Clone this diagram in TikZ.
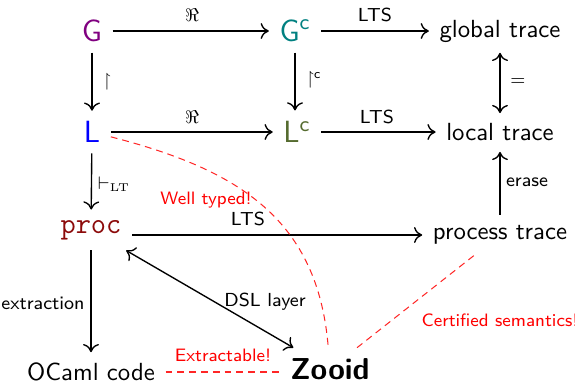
\documentclass[tikz,border=0pt]{standalone}
\usepackage{amsmath,amssymb}
\usetikzlibrary{arrows.meta}
\renewcommand\familydefault{\sfdefault}
\definecolor{gcol}{RGB}{128,0,128}
\definecolor{gccol}{RGB}{0,128,128}
\definecolor{lcol}{RGB}{0,0,255}
\definecolor{lccol}{RGB}{85,107,47}
\definecolor{proccol}{RGB}{140,10,10}
\tikzset{
  obj/.style={inner sep=4.5pt, font=\fontsize{10.9}{12}\selectfont},
  bigobj/.style={inner sep=4.5pt, font=\fontsize{13.5}{15}\selectfont},
  lbl/.style={inner sep=0pt, font=\fontsize{8.3}{9}\selectfont},
  redlbl/.style={inner sep=0pt, text=red, font=\fontsize{7.9}{9}\selectfont},
  arr/.style={line width=0.6pt, -{Computer Modern Rightarrow[length=3.6pt,width=7pt]}},
  darr/.style={line width=0.6pt, {Computer Modern Rightarrow[length=3.6pt,width=7pt]}-{Computer Modern Rightarrow[length=3.6pt,width=7pt]}},
  note/.style={red!85!white, line width=0.45pt, dash pattern=on 3pt off 2.2pt}
}
\begin{document}
\begin{tikzpicture}[x=0.44pt,y=-0.44pt]
\useasboundingbox (0,0) rectangle (575,385);

% objects
\node[bigobj, text=gcol] (G) at (92,31) {G};
\node[bigobj, text=gccol] (Gc) at (295,31) {G$^{\textsf{c}}$};
\node[obj] (gt) at (500,31) {global trace};
\node[bigobj, text=lcol] (L) at (92,132) {L};
\node[bigobj, text=lccol] (Lc) at (297,132) {L$^{\textsf{c}}$};
\node[obj] (lt) at (500,132.5) {local trace};
\node[inner sep=4.5pt, text=proccol, font=\fontsize{13}{15}\selectfont\ttfamily] (proc) at (91,230) {proc};
\node[obj] (pt) at (500,235) {process trace};
\node[obj] (oc) at (91,372) {OCaml code};
\node[inner sep=4.5pt, font=\fontsize{13.3}{15}\selectfont\bfseries] (Z) at (330,369) {Zooid};

% arrows
\draw[arr] (G) -- (Gc);
\draw[arr] (Gc) -- (Gc -| gt.west);
\draw[arr] (G) -- (L);
\draw[arr] (Gc) -- (Gc |- Lc.north);
\draw[darr] (gt) -- (lt);
\draw[arr] (L) -- (L -| Lc.west);
\draw[arr] (Lc) -- (Lc -| lt.west);
\draw[arr] (pt) -- (lt);
\draw[arr] (L) -- (proc);
\draw[arr] (proc.east |- pt.west) -- (pt.west);
\draw[arr] (proc) -- (oc);
\draw[darr] (proc) -- (Z);

% dashed remarks
\draw[note] (L) .. controls (240,170) and (318,220) .. (Z);
\draw[note] (oc) -- (oc -| Z.west);
\draw[note] (Z) -- (pt);

% labels
\node[lbl] (lr1) at (192,15) {$\Re$};
\node[lbl] (lr2) at (192,117) {$\Re$};
\node[lbl] (lts1) at (375,15) {LTS};
\node[lbl] (lts2) at (377,117) {LTS};
\node[lbl] (lts3) at (248,219) {LTS};
\node[lbl] (lres) at (107,82) {$\upharpoonright$};
\node[lbl] (lresc) at (314,80) {$\upharpoonright^{\textsf{c}}$};
\node[lbl] (leq) at (518,82) {$=$};
\node[lbl] (lvd) at (114,184) {$\vdash_{\scriptscriptstyle\mathrm{LT}}$};
\node[lbl] (lerase) at (527,182) {erase};
\node[lbl] (lext) at (43,303) {extraction};
\node[lbl] (ldsl) at (265,302) {DSL layer};
\node[redlbl] (lwt) at (206,200) {Well typed!};
\node[redlbl] (lxt) at (223,355) {Extractable!};
\node[redlbl] (lcs) at (500,320) {Certified semantics!};
\end{tikzpicture}
\end{document}
